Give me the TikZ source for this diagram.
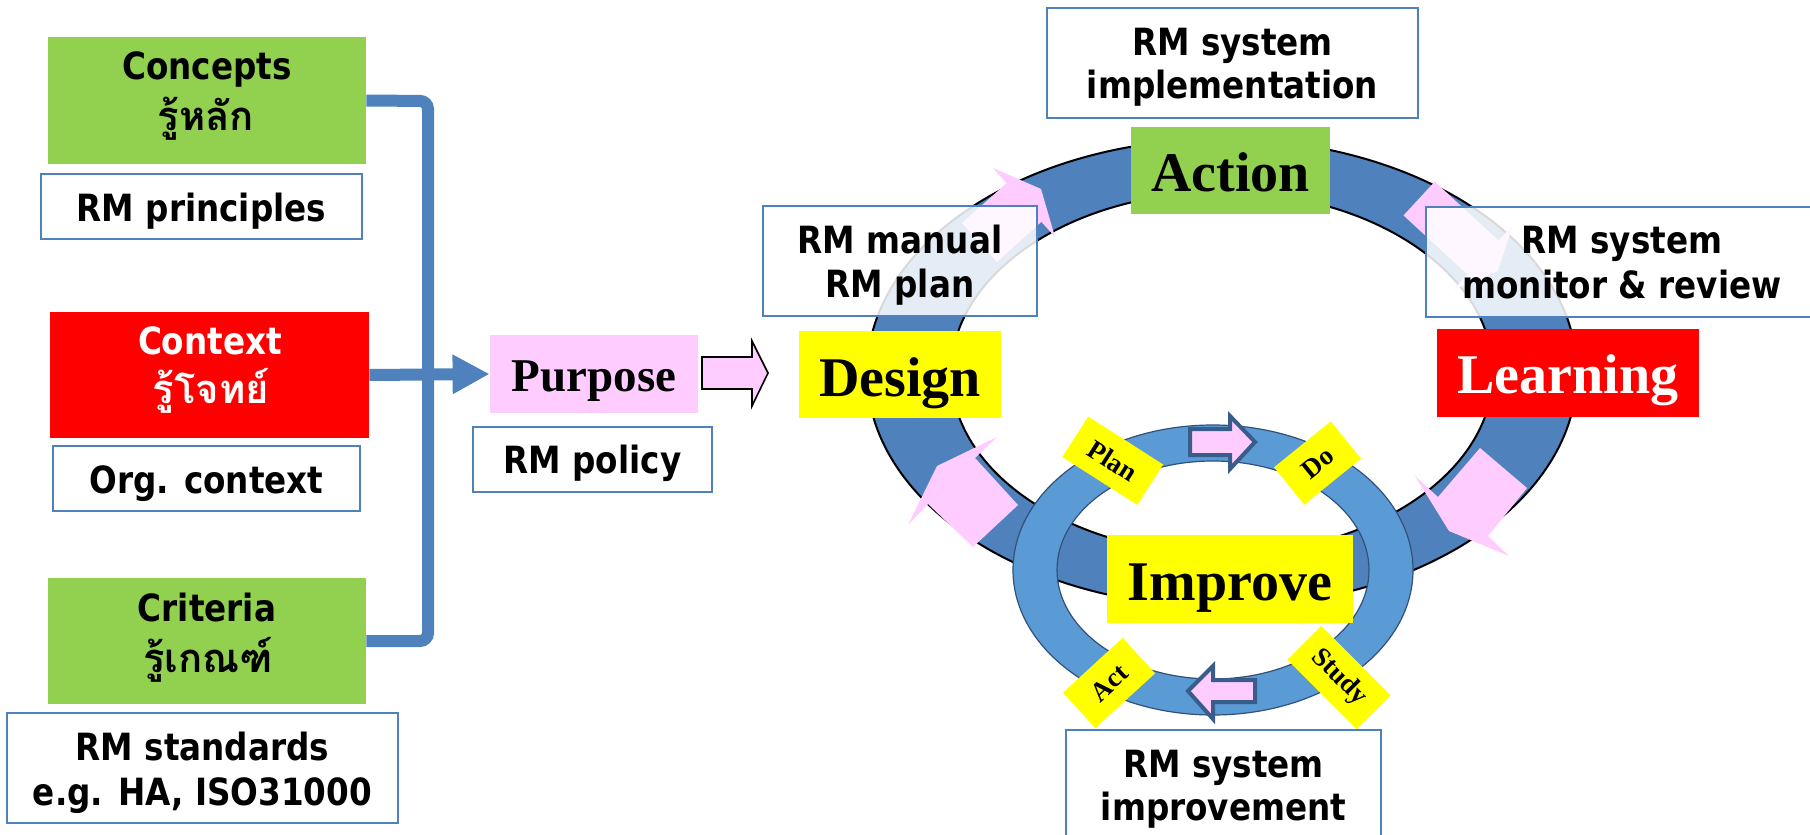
\documentclass[tikz,border=0pt]{standalone}
\usepackage{fontspec}
\setmainfont{Liberation Serif}
\newfontfamily\sansf[FakeStretch=0.87]{DejaVu Sans}
\newfontfamily\thaif[Script=Thai]{Loma}
\usetikzlibrary{arrows.meta,fit}
\definecolor{cgreen}{HTML}{92D050}
\definecolor{cred}{HTML}{FF0000}
\definecolor{cyellow}{HTML}{FFFF00}
\definecolor{cpink}{HTML}{FFCCFF}
\definecolor{boxblue}{HTML}{4F81BD}
\definecolor{ringbig}{HTML}{4F81BD}
\definecolor{ringsmall}{HTML}{5B9BD5}
\definecolor{ringedge}{RGB}{50,80,120}
\definecolor{arredge}{HTML}{385D8A}
\begin{document}
\begin{tikzpicture}[x=0.5pt,y=-0.5pt,
  box/.style={draw=boxblue, line width=1pt, fill=white, inner sep=0pt},
  tbox/.style={draw=boxblue, line width=1pt, fill=white, fill opacity=0.85, inner sep=0pt},
  solid box/.style={inner sep=0pt, fill=#1},
  sans/.style={inner sep=0pt, anchor=base, font=\sansf\bfseries\fontsize{18.75}{22}\selectfont},
  thai/.style={inner sep=0pt, anchor=base, font=\thaif\bfseries\fontsize{20}{24}\selectfont},
  big/.style={inner sep=0pt, anchor=base, font=\bfseries\fontsize{28}{32}\selectfont},
  pdca/.style={fill=cyellow, inner sep=0pt, minimum width=#1, minimum height=24pt, font=\bfseries\fontsize{13.5}{15}\selectfont},
  conn/.style={draw=boxblue, line width=6pt},
  pinkarrow/.style={fill=cpink},
  hollow/.style={fill=cpink, draw=arredge, line width=2pt, line join=miter},
]
\useasboundingbox (0,0) rectangle (1810,835);
\fill[white] (0,0) rectangle (1810,835);

% ---------------- left column ----------------
\node[solid box=cgreen, fit={(48,37) (366,164)}] (concepts) {};
\node[sans] (conceptsA) at (207,79) {Concepts};
\node[thai] (conceptsB) at (206,130) {รู้หลัก};
\node[box, fit={(41,174) (362,239)}] (principles) {};
\node[sans] (principlesT) at (201.5,221) {RM principles};

\node[solid box=cred, fit={(50,312) (369,438)}] (context) {};
\node[sans, text=white] (contextA) at (210,354) {Context};
\node[thai, text=white] (contextB) at (211,403) {รู้โจทย์};
\node[box, fit={(53,446) (360,511)}] (orgctx) {};
\node[sans] (orgctxT) at (206.5,493) {Org. context};

\node[solid box=cgreen, fit={(48,578) (366,704)}] (criteria) {};
\node[sans] (criteriaA) at (207,621) {Criteria};
\node[thai] (criteriaB) at (208,672) {รู้เกณฑ์};
\node[box, fit={(7,713) (398,823)}] (standards) {};
\node[sans] (standardsA) at (202.5,760) {RM standards};
\node[sans] (standardsB) at (202.5,805) {e.g. HA, ISO31000};

% connectors
\node[solid box=cpink, fit={(490,335) (698,413)}] (purpose) {};
\coordinate (busTop) at (428,101);
\coordinate (busBot) at (428,641);
\draw[conn, rounded corners=4] (concepts.east) -- (busTop) -- (busBot) -- (criteria.east);
\draw[conn, -{Triangle[length=18.5pt,width=18.5pt]}] (context.east) -- (purpose.west);

\node[big, font=\bfseries\fontsize{23.5}{28}\selectfont] (purposeT) at (594,391) {Purpose};
\node[box, fit={(473,427) (712,492)}] (policy) {};
\node[sans] (policyT) at (592.5,473) {RM policy};

% hollow arrow purpose -> design
\draw[fill=cpink, draw=black, line width=0.8pt]
  (702,357) -- (752,357) -- (752,341) -- (768,373) -- (752,406) -- (752,389) -- (702,389) -- cycle;

% ---------------- big ring ----------------
\fill[ringbig, even odd rule] (1222,373) ellipse [x radius=355, y radius=234]
                                (1222,373) ellipse [x radius=271, y radius=181];
\draw[line width=1pt] (1222,373) ellipse [x radius=355, y radius=234];
\draw[line width=1pt] (1222,373) ellipse [x radius=271, y radius=181];

% pink arrows on the big ring
\fill[pinkarrow] (937,466) -- (997,437) -- (975,458) -- (1018,505) -- (973,547) -- (928,504) -- (908,525) -- cycle;
\fill[pinkarrow] (1041,189) -- (1055,237) -- (1041.4,221.8) -- (996.8,261.9) -- (962,223) -- (1006.6,183.2) -- (993,168) -- cycle;
\fill[pinkarrow] (1497.7,271) -- (1453,290) -- (1467.4,274.4) -- (1403.5,215.4) -- (1434.7,181.6) -- (1498.6,240.6) -- (1513,225) -- cycle;
\fill[pinkarrow] (1449,531) -- (1415,476) -- (1438,497) -- (1480,448) -- (1527,488) -- (1488,536) -- (1509,556) -- cycle;

% ---------------- small ring ----------------
\fill[ringsmall, even odd rule] (1213,570) ellipse [x radius=200, y radius=145]
                                  (1213,570) ellipse [x radius=156, y radius=109];
\draw[ringedge, line width=0.6pt] (1213,570) ellipse [x radius=200, y radius=145];
\draw[ringedge, line width=0.6pt] (1213,570) ellipse [x radius=156, y radius=109];

\draw[hollow] (1190,429) -- (1230,429) -- (1230,416) -- (1255,442) -- (1230,469) -- (1230,455) -- (1190,455) -- cycle;
\draw[hollow] (1255,680) -- (1213,680) -- (1213,666) -- (1188,691) -- (1213,719) -- (1213,702) -- (1255,702) -- cycle;

\node[pdca=44.5pt, rotate=-32.6] (plan) at (1112.75,460.75) {Plan};
\node[pdca=36.5pt, rotate=39] (do) at (1317.5,463) {Do};
\node[pdca=40.5pt, rotate=42.5] (act) at (1109,683) {Act};
\node[pdca=49pt, rotate=-45] (study) at (1339,677.5) {Study};

% ---------------- labels on the cycle ----------------
\node[solid box=cyellow, fit={(799,331) (1001,418)}] (design) {};
\node[big] (designT) at (900,396) {Design};
\node[solid box=cgreen, fit={(1131,127) (1330,214)}] (action) {};
\node[big] (actionT) at (1230.5,191) {Action};
\node[solid box=cred, fit={(1437,329) (1699,417)}] (learning) {};
\node[big, text=white] (learningT) at (1568,393) {Learning};
\node[solid box=cyellow, fit={(1107,535) (1353,623)}] (improve) {};
\node[big] (improveT) at (1230,600) {Improve};

% ---------------- description boxes ----------------
\node[box, fit={(1047,8) (1418,118)}] (impl) {};
\node[sans] (implA) at (1232.5,55) {RM system};
\node[sans] (implB) at (1232.5,98) {implementation};

\node[tbox, fit={(763,206) (1037,316)}] (manual) {};
\node[sans] (manualA) at (900,253) {RM manual};
\node[sans] (manualB) at (900,297) {RM plan};

\node[tbox, fit={(1426,207) (1818,317)}] (monitor) {};
\node[sans] (monitorA) at (1622,253) {RM system};
\node[sans] (monitorB) at (1622,298) {monitor \& review};

\node[box, fit={(1066,730) (1381,842)}] (improvement) {};
\node[sans] (improvementA) at (1223.5,777) {RM system};
\node[sans] (improvementB) at (1223.5,820) {improvement};
\end{tikzpicture}
\end{document}
